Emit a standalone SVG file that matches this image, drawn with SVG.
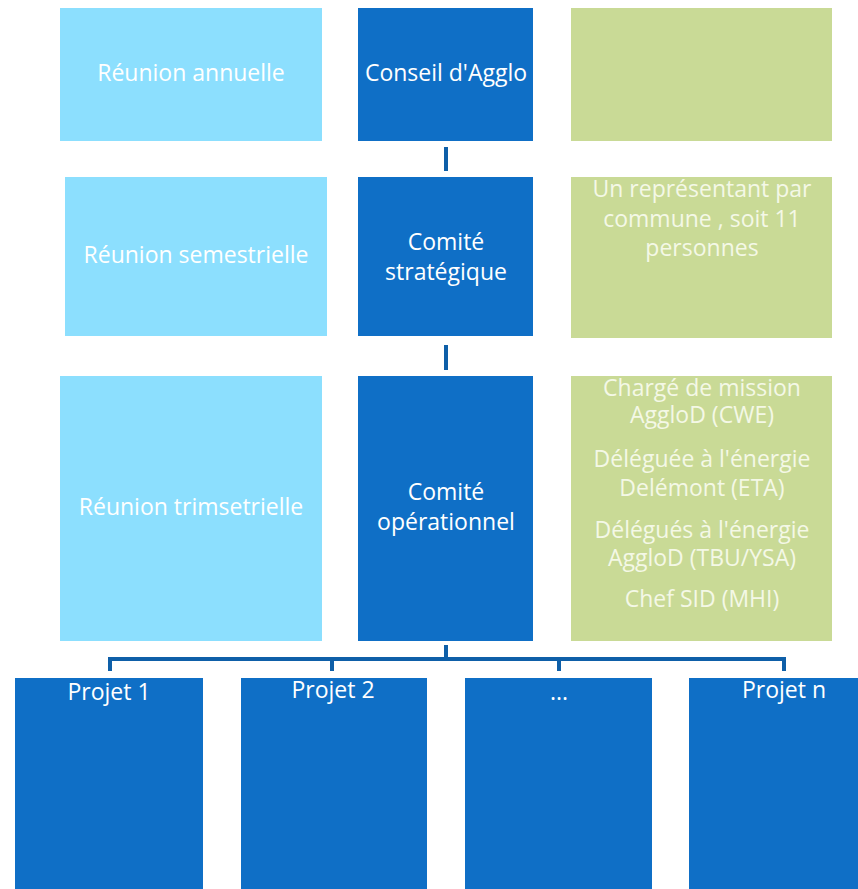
<svg xmlns="http://www.w3.org/2000/svg" width="858" height="889" viewBox="0 0 858 889">
<style>
.lb{fill:#8CDFFE}
.db{fill:#0F6FC6}
.gr{fill:#C9DA96}
text{font-family:"Open Sans","Noto Sans",sans-serif;font-size:23px;text-anchor:middle;fill:#FFFFFF}
.g text{fill:#F4F8E6}
.conn{stroke:#0E5FA8;stroke-width:4;fill:none}
</style>
<rect width="858" height="889" fill="#FFFFFF"/>
<g id="connectors">
<line class="conn" x1="446" y1="147" x2="446" y2="171"/>
<line class="conn" x1="446" y1="345" x2="446" y2="370"/>
<path class="conn" d="M446 645 V659 M110 671 V659 H784 V671 M332 659 V671 M559 659 V671"/>
</g>
<g id="reunion-annuelle"><rect class="lb" x="60" y="8" width="262" height="133"/><text x="191" y="81">Réunion annuelle</text></g>
<g id="conseil"><rect class="db" x="358" y="8" width="175" height="133"/><text x="446" y="81">Conseil d'Agglo</text></g>
<g id="vert-1" class="g"><rect class="gr" x="571" y="8" width="261" height="133"/></g>
<g id="reunion-semestrielle"><rect class="lb" x="65" y="177" width="262" height="159"/><text x="196" y="263">Réunion semestrielle</text></g>
<g id="comite-strategique"><rect class="db" x="358" y="177" width="175" height="159"/><text x="446" y="250">Comité</text><text x="446" y="280">stratégique</text></g>
<g id="vert-2" class="g"><rect class="gr" x="571" y="177" width="261" height="161"/><text x="702" y="197">Un représentant par</text><text x="702" y="227">commune , soit 11</text><text x="702" y="256">personnes</text></g>
<g id="reunion-trimestrielle"><rect class="lb" x="60" y="376" width="262" height="265"/><text x="191" y="515">Réunion trimsetrielle</text></g>
<g id="comite-operationnel"><rect class="db" x="358" y="376" width="175" height="265"/><text x="446" y="500">Comité</text><text x="446" y="530">opérationnel</text></g>
<g id="vert-3" class="g"><rect class="gr" x="571" y="376" width="261" height="265"/>
<text x="702" y="396">Chargé de mission</text><text x="702" y="423">AggloD (CWE)</text>
<text x="702" y="467">Déléguée à l'énergie</text><text x="702" y="496">Delémont (ETA)</text>
<text x="702" y="538">Délégués à l'énergie</text><text x="702" y="566">AggloD (TBU/YSA)</text>
<text x="702" y="607">Chef SID (MHI)</text></g>
<g id="projet-1"><rect class="db" x="15" y="678" width="188" height="211"/><text x="109" y="700">Projet 1</text></g>
<g id="projet-2"><rect class="db" x="241" y="678" width="186" height="211"/><text x="333" y="698">Projet 2</text></g>
<g id="projet-etc"><rect class="db" x="465" y="678" width="187" height="211"/><text x="559" y="700">...</text></g>
<g id="projet-n"><rect class="db" x="689" y="678" width="169" height="211"/><text x="784" y="698">Projet n</text></g>
</svg>
